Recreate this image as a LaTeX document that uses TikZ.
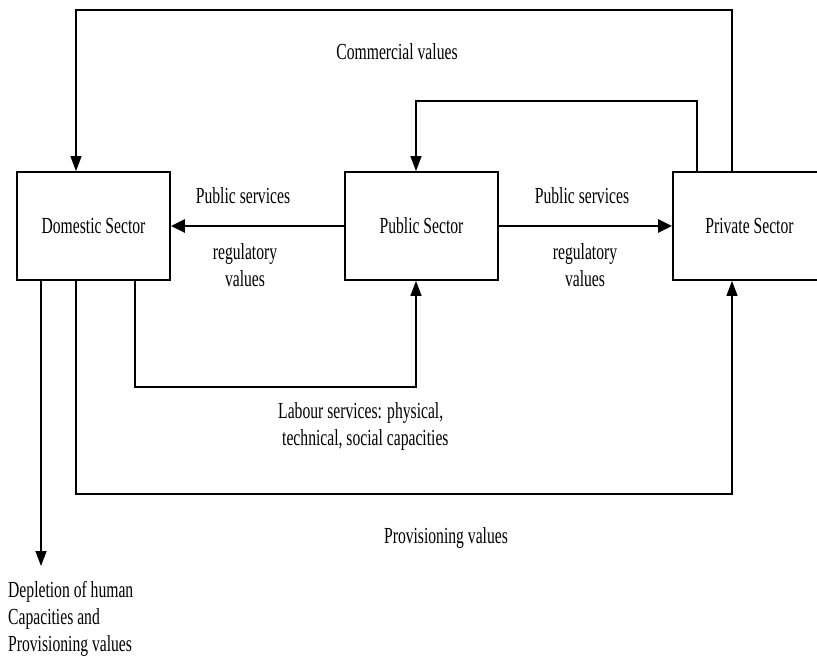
\documentclass[tikz,border=0pt]{standalone}
\usepackage{fontspec}
\setmainfont{Liberation Serif}[FakeStretch=0.68]
\usetikzlibrary{arrows.meta}
\begin{document}
\begin{tikzpicture}[x=1pt,y=-1pt,
  sector/.style={draw,line width=1.8pt,minimum width=153pt,minimum height=108pt,inner sep=0pt,font=\fontsize{23}{27}\selectfont},
  conn/.style={line width=1.4pt,-{Triangle[length=15pt,width=11pt]}},
  mainarrow/.style={line width=2.6pt,-{Triangle[length=14pt,width=13pt]}},
  lbl/.style={inner sep=0pt,font=\fontsize{23}{27}\selectfont},
]
\useasboundingbox (0,0) rectangle (817,658);
\fill[white] (0,0) rectangle (817,658);

\node[sector] (dom) at (93.5,226) {Domestic Sector};
\node[sector] (pub) at (421.5,226) {Public Sector};
\node[sector] (priv) at (749.5,226) {Private Sector};

\coordinate (tl) at (76,10);
\coordinate (tr) at (732,10);
\coordinate (il) at (416,101);
\coordinate (ir) at (697,101);
\coordinate (lb1) at (135,387);
\coordinate (lb2) at (416,387);
\coordinate (pb1) at (76,494);
\coordinate (pb2) at (732,494);
\coordinate (dep) at (41,566);

\draw[conn] (priv.north -| tr) -- (tr) -- (tl) -- (dom.north -| tl);
\draw[conn] (priv.north -| ir) -- (ir) -- (il) -- (pub.north -| il);
\draw[mainarrow] (pub.west) -- (dom.east);
\draw[mainarrow] (pub.east) -- (priv.west);
\draw[conn] (dom.south -| lb1) -- (lb1) -- (lb2) -- (pub.south -| lb2);
\draw[conn] (dom.south -| pb1) -- (pb1) -- (pb2) -- (priv.south -| pb2);
\draw[conn] (dom.south -| dep) -- (dep);

\node[lbl] (commercial) at (397,52) {Commercial values};
\node[lbl] (ps1) at (243,196) {Public services};
\node[lbl,align=center] (rv1) at (245,265) {regulatory\\values};
\node[lbl] (ps2) at (582,196) {Public services};
\node[lbl,align=center] (rv2) at (585,265) {regulatory\\values};
\node[lbl,align=left,anchor=west] (labour) at (278,426.5) {Labour services: physical,\\\hspace*{4pt}technical, social capacities};
\node[lbl] (prov) at (446,538) {Provisioning values};
\node[lbl,align=left,anchor=west] (depl) at (8,619) {Depletion of human\\Capacities and\\Provisioning values};
\end{tikzpicture}
\end{document}
